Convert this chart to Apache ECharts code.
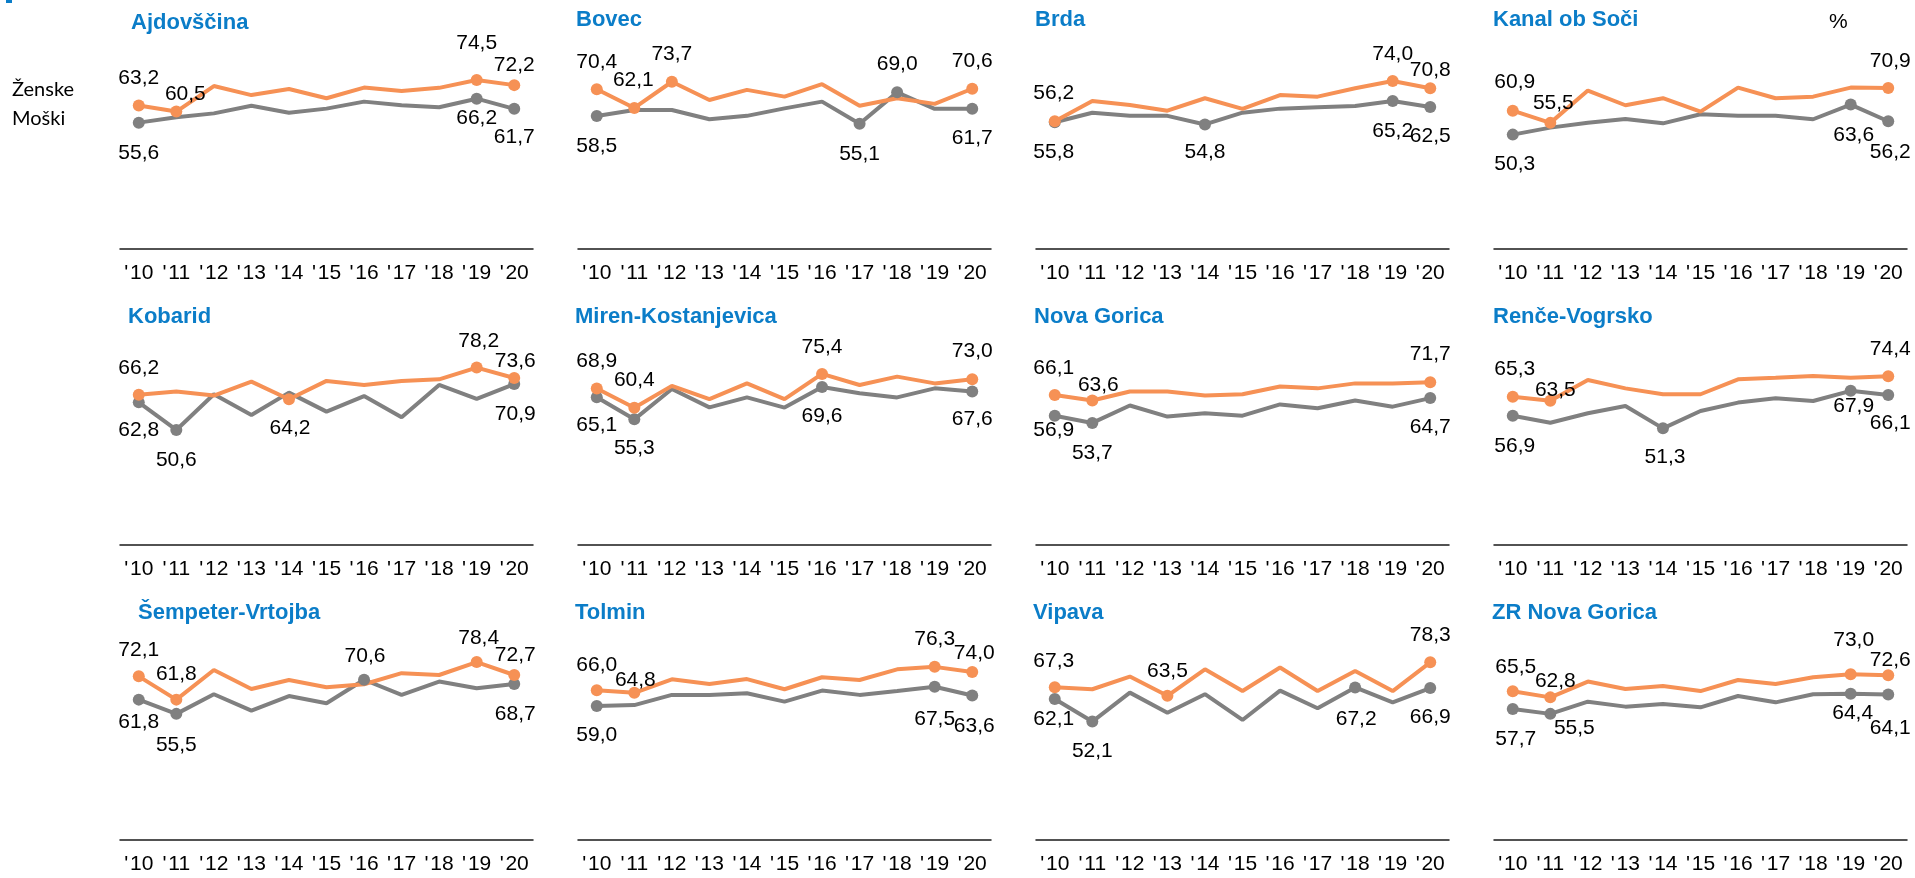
<!DOCTYPE html>
<html>
<head>
<meta charset="utf-8">
<script src="https://cdn.jsdelivr.net/npm/echarts@6/dist/echarts.min.js"></script>
<style>
  html, body { margin: 0; padding: 0; background: #fff; }
  #chart { width: 1915px; height: 878px; }
</style>
</head>
<body>
<div id="chart"></div>
<script>
const years = ["'10", "'11", "'12", "'13", "'14", "'15", "'16", "'17", "'18", "'19", "'20"]

const regions = ['Ajdovščina', 'Bovec', 'Brda', 'Kanal ob Soči',
  'Kobarid', 'Miren-Kostanjevica', 'Nova Gorica', 'Renče-Vogrsko',
  'Šempeter-Vrtojba', 'Tolmin', 'Vipava', 'ZR Nova Gorica']

// orange line
const moskiAjdovscina = [63.2, 60.5, 71.8, 67.8, 70.5, 66.4, 71.1, 69.6, 71.0, 74.5, 72.2]
const moskiBovec = [70.4, 62.1, 73.7, 65.6, 70.1, 67.1, 72.6, 63.1, 66.4, 63.9, 70.6]
const moskiBrda = [56.2, 65.2, 63.4, 60.9, 66.4, 61.7, 67.8, 67.1, 70.8, 74.0, 70.8]
const moskiKanal = [60.9, 55.5, 69.8, 63.3, 66.4, 60.5, 71.1, 66.4, 67.1, 71.1, 70.9]
const moskiKobarid = [66.2, 67.6, 65.8, 72.0, 64.2, 72.3, 70.5, 72.3, 73.0, 78.2, 73.6]
const moskiMiren = [68.9, 60.4, 70.1, 64.2, 71.2, 64.2, 75.4, 70.5, 74.2, 71.2, 73.0]
const moskiNovaGorica = [66.1, 63.6, 67.6, 67.6, 65.8, 66.4, 69.8, 69.0, 71.2, 71.2, 71.7]
const moskiRence = [65.3, 63.5, 72.7, 69.0, 66.4, 66.4, 73.0, 73.7, 74.5, 73.7, 74.4]
const moskiSempeter = [72.1, 61.8, 74.9, 66.5, 70.5, 67.3, 68.6, 73.5, 72.7, 78.4, 72.7]
const moskiTolmin = [66.0, 64.8, 70.8, 68.7, 70.9, 66.4, 71.7, 70.5, 75.2, 76.3, 74.0]
const moskiVipava = [67.3, 66.4, 72.0, 63.5, 75.2, 65.6, 76.0, 65.6, 74.5, 65.6, 78.3]
const moskiZR = [65.5, 62.8, 69.8, 66.5, 67.8, 65.6, 70.5, 68.7, 71.7, 73.0, 72.6]

// grey line
const zenskeAjdovscina = [55.6, 58.0, 59.7, 63.1, 60.0, 61.8, 64.9, 63.3, 62.4, 66.2, 61.7]
const zenskeBovec = [58.5, 61.2, 61.2, 57.1, 58.6, 61.9, 64.9, 55.1, 69.0, 61.7, 61.7]
const zenskeBrda = [55.8, 60.0, 58.6, 58.6, 54.8, 60.0, 61.8, 62.4, 63.0, 65.2, 62.5]
const zenskeKanal = [50.3, 53.4, 55.6, 57.2, 55.3, 59.3, 58.6, 58.6, 57.1, 63.6, 56.2]
const zenskeKobarid = [62.8, 50.6, 66.4, 57.2, 67.1, 58.7, 65.6, 56.2, 70.5, 64.3, 70.9]
const zenskeMiren = [65.1, 55.3, 68.7, 60.6, 65.0, 60.5, 69.6, 66.8, 65.0, 69.0, 67.6]
const zenskeNovaGorica = [56.9, 53.7, 61.4, 56.5, 58.0, 56.9, 61.9, 60.2, 63.6, 60.9, 64.7]
const zenskeRence = [56.9, 53.8, 58.0, 61.2, 51.3, 59.0, 62.7, 64.6, 63.4, 67.9, 66.1]
const zenskeSempeter = [61.8, 55.5, 64.2, 56.9, 63.4, 60.2, 70.6, 63.9, 69.8, 66.8, 68.7]
const zenskeTolmin = [59.0, 59.4, 63.9, 63.9, 64.6, 60.9, 65.8, 63.9, 65.6, 67.5, 63.6]
const zenskeVipava = [62.1, 52.1, 64.9, 56.0, 64.2, 52.8, 65.8, 58.0, 67.2, 60.6, 66.9]
const zenskeZR = [57.7, 55.5, 60.9, 58.7, 59.9, 58.4, 63.4, 60.6, 64.2, 64.4, 64.1]

const moski = [moskiAjdovscina, moskiBovec, moskiBrda, moskiKanal, moskiKobarid, moskiMiren,
  moskiNovaGorica, moskiRence, moskiSempeter, moskiTolmin, moskiVipava, moskiZR]
const zenske = [zenskeAjdovscina, zenskeBovec, zenskeBrda, zenskeKanal, zenskeKobarid, zenskeMiren,
  zenskeNovaGorica, zenskeRence, zenskeSempeter, zenskeTolmin, zenskeVipava, zenskeZR]

// which points carry a marker + label: [index, dx, dy] of the label centre from the point
const labelsMoski = [
  [[0, 0, -27], [1, 9, -17], [9, 0, -37], [10, 0, -20]],
  [[0, 0, -27], [1, -1, -28], [2, 0, -28], [10, 0, -28]],
  [[0, -1, -28], [9, 0, -27], [10, 0, -18]],
  [[0, 2, -28], [1, 3, -20], [10, 2, -27]],
  [[0, 0, -26], [4, 1, 29], [9, 2, -26], [10, 1, -17]],
  [[0, 0, -27], [1, 0, -28], [6, 0, -27], [10, 0, -28]],
  [[0, -1, -27], [1, 6, -15], [10, 0, -28]],
  [[0, 2, -28], [1, 5, -11], [10, 2, -27]],
  [[0, 0, -26], [1, 0, -25], [9, 2, -24], [10, 1, -20]],
  [[0, 0, -25], [1, 1, -13], [9, 0, -28], [10, 2, -19]],
  [[0, -1, -26], [3, 0, -25], [10, 0, -27]],
  [[0, 3, -24], [1, 5, -16], [9, 3, -34], [10, 2, -15]]
]
const labelsZenske = [
  [[0, 0, 31], [9, 0, 20], [10, 0, 28]],
  [[0, 0, 30], [7, 0, 30], [8, 0, -28], [10, 0, 29]],
  [[0, -1, 30], [4, 0, 28], [9, 0, 30], [10, 0, 29]],
  [[0, 2, 30], [9, 3, 31], [10, 2, 31]],
  [[0, 0, 28], [1, 0, 30], [10, 1, 30]],
  [[0, 0, 28], [1, 0, 29], [6, 0, 29], [10, 0, 28]],
  [[0, -1, 14], [1, 0, 30], [10, 0, 29]],
  [[0, 2, 30], [4, 2, 29], [9, 3, 15], [10, 2, 28]],
  [[0, 0, 23], [1, 0, 31], [6, 1, -24], [10, 1, 30]],
  [[0, 0, 29], [9, 0, 32], [10, 2, 31]],
  [[0, -1, 20], [1, 0, 30], [8, 1, 32], [10, 0, 29]],
  [[0, 3, 30], [1, 24, 14], [9, 2, 19], [10, 2, 34]]
]

const colLeft = [120, 578, 1036, 1494]
const colWidth = 413
const rowBottom = [248.3, 544.3, 839.3]
const plotHeight = 226

// title anchor [x, y] for each panel
const titlePos = [
  [131, 25], [576, 22], [1035, 22], [1493, 22],
  [128, 319], [575, 319], [1034, 319], [1493, 319],
  [138, 615], [575, 615], [1033, 615], [1492, 615]
]

const ORANGE = '#F69155'
const GREY = '#808080'
const FONT = 'Arial, Liberation Sans, sans-serif'

function fmt(v) {
  return v.toFixed(1).replace('.', ',')
}

function buildData(values, spots) {
  return values.map((v, i) => {
    const s = spots.find(_ => _[0] === i)
    if (!s) {
      return { value: v, symbolSize: 0, label: { show: false } }
    }
    return {
      value: v,
      symbolSize: 12,
      label: {
        show: true,
        position: 'inside',
        offset: [s[1], s[2]],
        formatter: () => fmt(v)
      }
    }
  })
}

function buildSeries(k, values, spots, color, name) {
  return {
    name: name,
    type: 'line',
    xAxisIndex: k,
    yAxisIndex: k,
    symbol: 'circle',
    showAllSymbol: true,
    silent: true,
    lineStyle: { color: color, width: 4 },
    itemStyle: { color: color },
    label: {
      color: '#000',
      fontSize: 21,
      fontFamily: FONT
    },
    emphasis: { disabled: true },
    data: buildData(values, spots)
  }
}

function initChart() {
  const chart = echarts.init(document.getElementById('chart'))
  const grid = []
  const xAxis = []
  const yAxis = []
  const series = []
  const graphic = []

  regions.forEach((name, k) => {
    const row = Math.floor(k / 4)
    const col = k % 4
    grid.push({
      left: colLeft[col],
      width: colWidth,
      top: rowBottom[row] - plotHeight,
      height: plotHeight
    })
    xAxis.push({
      type: 'category',
      gridIndex: k,
      boundaryGap: true,
      data: years,
      axisTick: { show: false },
      axisLine: { lineStyle: { color: '#1a1a1a', width: 1.5 } },
      axisLabel: {
        interval: 0,
        margin: 14,
        color: '#000',
        fontSize: 21,
        fontFamily: FONT,
        formatter: v => v.replace("'", "'\u200A")
      }
    })
    yAxis.push({
      type: 'value',
      gridIndex: k,
      min: 0,
      max: 100,
      show: false
    })
    series.push(buildSeries(k, zenske[k], labelsZenske[k], GREY, 'Ženske'))
    series.push(buildSeries(k, moski[k], labelsMoski[k], ORANGE, 'Moški'))
    graphic.push({
      type: 'text',
      left: titlePos[k][0],
      top: titlePos[k][1] - 13,
      style: {
        text: name,
        fill: '#0B7DC8',
        font: 'bold 22px ' + FONT
      }
    })
  })

  graphic.push({
    type: 'text', left: 12, top: 80,
    style: { text: 'Ženske', fill: '#000', font: '20px Lato, Open Sans, sans-serif' }
  })
  graphic.push({
    type: 'text', left: 12, top: 109,
    style: { text: 'Moški', fill: '#000', font: '20px Lato, Open Sans, sans-serif' }
  })
  graphic.push({
    type: 'text', left: 1829, top: 12,
    style: { text: '%', fill: '#000', font: '21px ' + FONT }
  })
  graphic.push({
    type: 'rect', shape: { x: 6, y: 0, width: 6, height: 3 },
    style: { fill: '#0B7DC8' }
  })

  chart.setOption({
    animation: false,
    grid: grid,
    xAxis: xAxis,
    yAxis: yAxis,
    series: series,
    graphic: graphic
  })
}

initChart()
</script>
</body>
</html>
